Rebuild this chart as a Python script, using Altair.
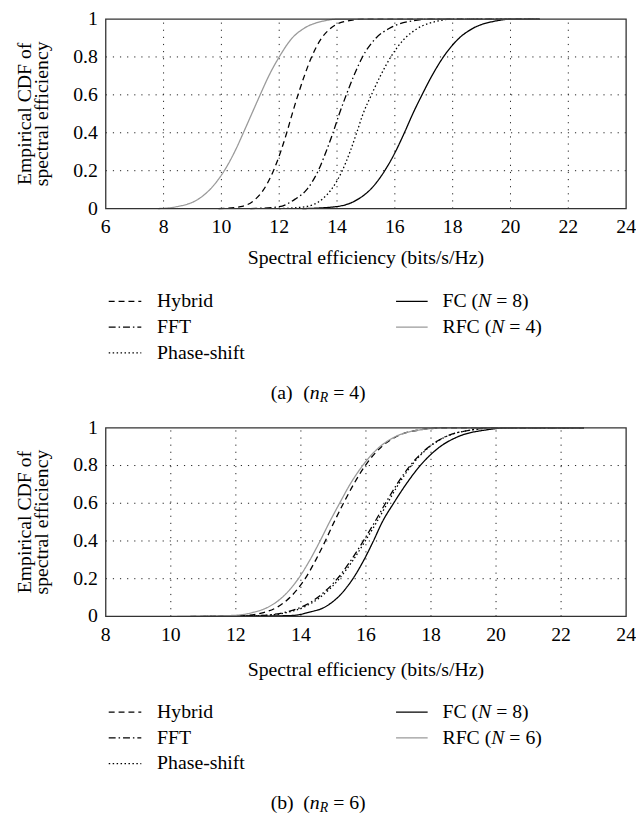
import altair as alt
import pandas as pd

FONT = "Liberation Serif"
FS = 20

# ---------------- data ----------------
series = ["Hybrid", "FFT", "Phase-shift", "FC", "RFC"]
legend_n_a = ["8", "4"]   # N values for FC / RFC in panel (a)
legend_n_b = ["8", "6"]   # N values for FC / RFC in panel (b)
captions = [("(a)", "4"), ("(b)", "6")]
x_title = "Spectral efficiency (bits/s/Hz)"
y_title = ["Empirical CDF of", "spectral efficiency"]

x_ticks_a = [6, 8, 10, 12, 14, 16, 18, 20, 22, 24]
x_ticks_b = [8, 10, 12, 14, 16, 18, 20, 22, 24]
y_ticks = [0, 0.2, 0.4, 0.6, 0.8, 1]

# panel (a): n_R = 4
cdf_a = [0, 0.01, 0.05, 0.1, 0.2, 0.3, 0.4, 0.5, 0.6, 0.7, 0.8, 0.9, 0.95, 0.99, 1, 1]
a_hybrid = [9.9, 10.66, 11.18, 11.46, 11.8, 12.05, 12.26, 12.45, 12.65, 12.87, 13.12, 13.47, 13.77, 14.35, 15.0, 21.0]
a_fft = [11.0, 12.0, 12.55, 12.95, 13.35, 13.62, 13.86, 14.08, 14.32, 14.58, 14.88, 15.35, 15.8, 16.6, 17.3, 21.0]
a_phase = [12.0, 12.9, 13.49, 13.8, 14.18, 14.45, 14.68, 14.9, 15.19, 15.5, 15.86, 16.36, 16.78, 17.5, 18.0, 21.0]
a_fc = [12.8, 13.95, 14.73, 15.15, 15.65, 16.02, 16.33, 16.62, 16.94, 17.28, 17.68, 18.23, 18.69, 19.5, 20.1, 21.0]
a_rfc = [7.8, 8.45, 9.2, 9.6, 10.1, 10.46, 10.76, 11.05, 11.34, 11.64, 12.0, 12.45, 12.85, 13.55, 14.1, 21.0]

# panel (b): n_R = 6
cdf_b = [0, 0.005, 0.02, 0.05, 0.1, 0.2, 0.3, 0.4, 0.5, 0.6, 0.7, 0.8, 0.9, 0.95, 0.99, 1, 1]
b_hybrid = [10.6, 12.3, 12.85, 13.28, 13.66, 14.13, 14.46, 14.75, 15.02, 15.31, 15.62, 15.98, 16.48, 16.9, 17.7, 18.5, 22.7]
b_fft = [11.0, 12.75, 13.46, 14.02, 14.51, 15.12, 15.55, 15.92, 16.27, 16.6, 16.95, 17.36, 17.94, 18.41, 19.3, 20.0, 22.7]
b_phase = [11.1, 12.85, 13.55, 14.1, 14.58, 15.18, 15.61, 15.98, 16.33, 16.66, 17.0, 17.4, 17.96, 18.42, 19.3, 20.0, 22.7]
b_fc = [12.0, 13.75, 14.2, 14.74, 15.13, 15.6, 15.94, 16.23, 16.5, 16.85, 17.23, 17.67, 18.28, 18.79, 19.74, 20.4, 22.7]
b_rfc = [10.2, 11.9, 12.5, 13.0, 13.42, 13.92, 14.28, 14.59, 14.88, 15.19, 15.51, 15.9, 16.43, 16.87, 17.7, 18.5, 22.7]

# ---------------- styles ----------------
dash_range = [[6, 4], [7, 3, 1.5, 3], [1.5, 2.5], [1, 0], [1, 0]]
color_range = ["#000000", "#000000", "#000000", "#000000", "#9a9a9a"]
LW = 1.3
GRID = dict(strokeDash=[1.2, 6], color="#222", strokeWidth=1)


def make_df(cdf, curves):
    rows = []
    for name, xs in zip(series, curves):
        for i, (x, c) in enumerate(zip(xs, cdf)):
            rows.append({"series": name, "x": x, "cdf": c, "i": i})
    return pd.DataFrame(rows)


df_a = make_df(cdf_a, [a_hybrid, a_fft, a_phase, a_fc, a_rfc])
df_b = make_df(cdf_b, [b_hybrid, b_fft, b_phase, b_fc, b_rfc])

W = 527
H = 605  # total plot-coordinate height (bottom of panel b)


def one():
    return alt.Data(values=[{}])


def txt(s, x, y, size=FS, style="normal", dy=0, align="left", angle=0):
    return alt.Chart(one()).mark_text(
        text=s, font=FONT, fontSize=size, fontStyle=style, align=align,
        baseline="middle", dy=dy, color="black", angle=angle,
    ).encode(x=alt.value(x), y=alt.value(y))


def panel(df, xt, y_range, xtitle_y, ytitle_y):
    xs = alt.Scale(domain=[xt[0], xt[-1]], nice=False, zero=False)
    ys = alt.Scale(domain=[y_ticks[0], y_ticks[-1]], range=y_range, nice=False, zero=False)
    grid_x = pd.DataFrame({"v": xt[1:-1]})
    grid_y = pd.DataFrame({"v": y_ticks[1:-1]})
    lab_x = pd.DataFrame({"v": xt})
    lab_y = pd.DataFrame({"v": y_ticks})
    box = pd.DataFrame({"x0": [xt[0]], "x1": [xt[-1]], "y0": [y_ticks[0]], "y1": [y_ticks[-1]]})

    gx = alt.Chart(grid_x).mark_rule(**GRID).encode(
        x=alt.X("v:Q", scale=xs, axis=None),
        y=alt.Y(datum=y_ticks[0], scale=ys, axis=None),
        y2=alt.Y2(datum=y_ticks[-1]),
    )
    gy = alt.Chart(grid_y).mark_rule(**GRID).encode(
        y=alt.Y("v:Q", scale=ys, axis=None),
        x=alt.X(datum=xt[0], scale=xs, axis=None),
        x2=alt.X2(datum=xt[-1]),
    )
    lines = alt.Chart(df).mark_line(strokeWidth=LW, interpolate="monotone").encode(
        x=alt.X("x:Q", scale=xs, axis=None),
        y=alt.Y("cdf:Q", scale=ys, axis=None),
        detail="series:N",
        order="i:Q",
        color=alt.Color("series:N", scale=alt.Scale(domain=series, range=color_range), legend=None),
        strokeDash=alt.StrokeDash("series:N", scale=alt.Scale(domain=series, range=dash_range), legend=None),
    )
    frame = alt.Chart(box).mark_rect(fillOpacity=0, stroke="#333", strokeWidth=1.3).encode(
        x=alt.X("x0:Q", scale=xs, axis=None), x2="x1:Q",
        y=alt.Y("y0:Q", scale=ys, axis=None), y2="y1:Q",
    )
    xlabels = alt.Chart(lab_x).mark_text(
        font=FONT, fontSize=FS, color="black", align="center", baseline="middle", dy=19
    ).encode(
        x=alt.X("v:Q", scale=xs, axis=None),
        y=alt.Y(datum=y_ticks[0], scale=ys, axis=None),
        text=alt.Text("v:Q", format="d"),
    )
    ylabels = alt.Chart(lab_y).mark_text(
        font=FONT, fontSize=FS, color="black", align="right", baseline="middle", dx=-8
    ).encode(
        x=alt.X(datum=xt[0], scale=xs, axis=None),
        y=alt.Y("v:Q", scale=ys, axis=None),
        text=alt.Text("v:Q", format="~g"),
    )
    xt_mark = txt(x_title, W / 2, xtitle_y, align="center")
    yt1 = txt(y_title[0], -82, ytitle_y, align="center", angle=270)
    yt2 = txt(y_title[1], -64, ytitle_y, align="center", angle=270)
    return alt.layer(gx, gy, lines, frame, xlabels, ylabels, xt_mark, yt1, yt2)


def sym(i, x1, x2, y):
    return alt.Chart(one()).mark_rule(
        strokeDash=dash_range[i], color=color_range[i], strokeWidth=LW
    ).encode(x=alt.value(x1), x2=alt.value(x2), y=alt.value(y))


def legend(y0, nvals, cap, cap_y):
    layers = []
    step = 26
    for k, i in enumerate([0, 1, 2]):
        layers.append(sym(i, 3, 36, y0 + k * step))
        layers.append(txt(series[i], 52, y0 + k * step))
    for k, i in enumerate([3, 4]):
        y = y0 + k * step
        layers.append(sym(i, 294, 326, y))
        head = series[i] + " ("
        w_head = 36.1 if series[i] == "FC" else 49.4
        layers.append(txt(head, 341, y))
        layers.append(txt("N", 341 + w_head, y, style="italic"))
        layers.append(txt("= " + nvals[k] + ")", 341 + w_head + 13.3 + 5, y))
    x0 = 167
    layers.append(txt(cap[0], x0, cap_y))
    layers.append(txt("(", x0 + 33, cap_y))
    layers.append(txt("n", x0 + 39.7, cap_y, style="italic"))
    layers.append(txt("R", x0 + 49.7, cap_y, size=14, style="italic", dy=5))
    layers.append(txt("= " + cap[1] + ")", x0 + 63.3, cap_y))
    return layers


pa = panel(df_a, x_ticks_a, [192, 0], 242, 96)
pb = panel(df_b, x_ticks_b, [605, 414], 659, 509.5)

chart = alt.layer(
    pa, pb,
    *legend(286, legend_n_a, captions[0], 379),
    *legend(702, legend_n_b, captions[1], 794),
).resolve_scale(x="independent", y="independent").properties(
    width=W, height=H,
    autosize=alt.AutoSizeParams(type="none"),
    padding={"left": 99, "top": 6, "right": 10, "bottom": 200},
).configure_view(stroke=None)

chart.save("out.html", embed_options={"renderer": "svg", "actions": False})
